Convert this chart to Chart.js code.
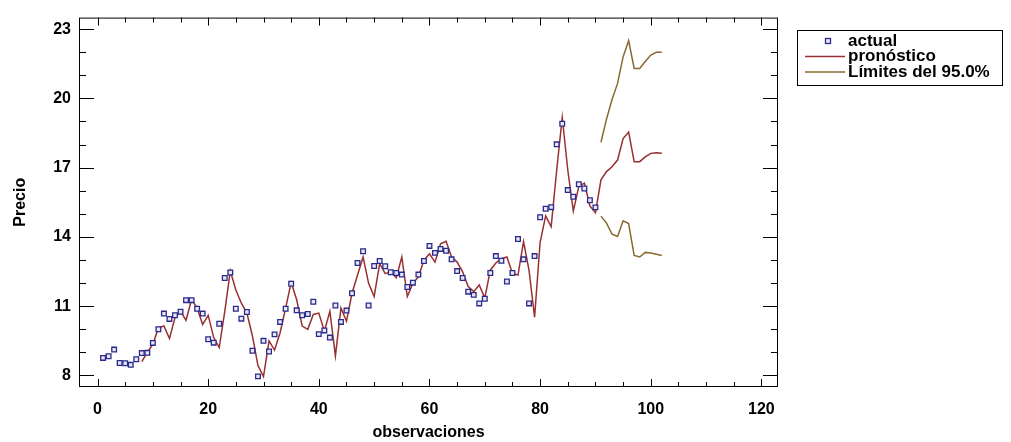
<!DOCTYPE html>
<html>
<head>
<meta charset="utf-8">
<title>Precio - pronóstico</title>
<script src="https://cdn.jsdelivr.net/npm/chart.js"></script>
<style>
  body { margin: 0; background: #fff; }
  canvas { display: block; }
</style>
</head>
<body>
<canvas id="grafico" width="1011" height="442"></canvas>
<script>
// valores observados, observaciones 1..90
const actualInicio = 1;
const actual = [
  8.76, 8.83, 9.12, 8.54, 8.53, 8.46, 8.70, 8.97, 8.98, 9.41,
  10.00, 10.68, 10.45, 10.61, 10.76, 11.26, 11.26, 10.89, 10.68, 9.57,
  9.42, 10.24, 12.22, 12.46, 10.89, 10.46, 10.75, 9.07, 7.96, 9.50,
  9.04, 9.78, 10.32, 10.89, 11.97, 10.82, 10.61, 10.66, 11.19, 9.79,
  9.95, 9.64, 11.03, 10.32, 10.81, 11.56, 12.87, 13.38, 11.03, 12.74,
  12.96, 12.73, 12.47, 12.44, 12.37, 11.83, 12.02, 12.37, 12.96, 13.61,
  13.31, 13.48, 13.40, 13.03, 12.52, 12.22, 11.63, 11.49, 11.12, 11.32,
  12.44, 13.17, 12.97, 12.07, 12.44, 13.91, 13.03, 11.12, 13.17, 14.85,
  15.22, 15.29, 18.01, 18.90, 16.03, 15.74, 16.28, 16.10, 15.59, 15.28
];

// pronóstico, observaciones 8..102
const pronosticoInicio = 8;
const pronostico = [
  8.60, 9.00, 9.35, 10.06, 10.14, 9.60, 10.50, 10.78, 10.39, 11.30,
  10.92, 10.21, 10.60, 9.64, 9.21, 10.78, 12.53, 11.70, 11.13, 10.70,
  9.71, 8.43, 7.95, 9.50, 9.10, 9.85, 10.92, 12.03, 11.28, 10.14,
  10.00, 10.64, 10.70, 9.92, 10.78, 8.85, 10.92, 10.35, 11.56, 12.35,
  13.13, 11.99, 11.42, 12.84, 12.41, 12.49, 12.23, 13.13, 11.42, 11.99,
  12.27, 12.99, 13.27, 12.91, 13.70, 13.81, 13.13, 12.91, 12.49, 11.85,
  11.63, 11.92, 11.35, 12.56, 12.87, 13.06, 13.13, 12.42, 12.35, 13.80,
  12.55, 10.52, 13.77, 14.91, 14.45, 16.90, 19.18, 16.90, 15.12, 16.19,
  16.33, 15.34, 15.05, 16.47, 16.83, 17.04, 17.33, 18.26, 18.54, 17.26,
  17.26, 17.47, 17.62, 17.65, 17.62
];

// límites del 95%, observaciones 91..102
const limitesInicio = 91;
const limiteSuperior = [18.10, 19.10, 19.95, 20.65, 21.80, 22.50, 21.30, 21.30, 21.60, 21.88, 22.00, 22.00];
const limiteInferior = [14.90, 14.60, 14.12, 14.02, 14.70, 14.58, 13.20, 13.13, 13.33, 13.30, 13.25, 13.20];

const xTicks = [0, 20, 40, 60, 80, 100, 120];
const yTicks = [8, 11, 14, 17, 20, 23];

const fuente = "'Liberation Sans', Arial, sans-serif";
const colorActual = '#2a2a8a';
const colorPronostico = '#992f30';
const colorLimites = '#88692e';

function puntos(inicio, valores) {
  return valores.map((v, i) => ({ x: inicio + i, y: v }));
}

// marco, marcas hacia dentro en los cuatro lados y leyenda
const marcoPlugin = {
  id: 'marco',
  afterDraw(chart) {
    const { ctx, chartArea: a, scales: { x, y } } = chart;
    ctx.save();
    ctx.strokeStyle = '#000';
    ctx.lineWidth = 1;
    ctx.strokeRect(a.left + 0.5, a.top + 0.5, a.right - a.left - 1, a.bottom - a.top - 1);

    ctx.beginPath();
    for (let v = xTicks[0]; v <= xTicks[xTicks.length - 1]; v += 5) {
      const px = Math.round(x.getPixelForValue(v)) + 0.5;
      const len = xTicks.includes(v) ? 8 : 5;
      ctx.moveTo(px, a.bottom); ctx.lineTo(px, a.bottom - len);
      ctx.moveTo(px, a.top); ctx.lineTo(px, a.top + len);
    }
    for (let v = yTicks[0]; v <= yTicks[yTicks.length - 1]; v += 1) {
      const py = Math.round(y.getPixelForValue(v)) + 0.5;
      const len = yTicks.includes(v) ? 15 : 7;
      ctx.moveTo(a.left, py); ctx.lineTo(a.left + len, py);
      ctx.moveTo(a.right, py); ctx.lineTo(a.right - len, py);
    }
    ctx.stroke();

    // leyenda
    const lx = 797.5, ly = 30.5, lw = 205, lh = 55;
    ctx.fillStyle = '#fff';
    ctx.fillRect(lx, ly, lw, lh);
    ctx.strokeRect(lx, ly, lw, lh);
    const ds = chart.data.datasets;
    const filas = [41, 56.5, 72];
    ctx.font = 'bold 17px ' + fuente;
    ctx.textBaseline = 'middle';
    ctx.textAlign = 'left';
    // actual: cuadrito
    ctx.strokeStyle = ds[0].borderColor;
    ctx.fillStyle = ds[0].backgroundColor;
    ctx.lineWidth = 1.3;
    ctx.fillRect(825.5, filas[0] - 2.5, 5, 5);
    ctx.strokeRect(825.5, filas[0] - 2.5, 5, 5);
    // líneas
    [[1, filas[1]], [2, filas[2]]].forEach(([i, fy]) => {
      ctx.strokeStyle = ds[i].borderColor;
      ctx.lineWidth = 1.5;
      ctx.beginPath();
      ctx.moveTo(805, fy); ctx.lineTo(845, fy);
      ctx.stroke();
    });
    ctx.fillStyle = '#000';
    ctx.fillText(ds[0].label, 848, filas[0]);
    ctx.fillText(ds[1].label, 848, filas[1]);
    ctx.fillText(ds[2].label, 848, filas[2]);
    ctx.restore();
  }
};

const tickFont = { family: fuente, size: 16, weight: 'bold' };
const titleFont = { family: fuente, size: 16, weight: 'bold' };

new Chart(document.getElementById('grafico'), {
  type: 'line',
  data: {
    datasets: [
      {
        label: 'actual',
        data: puntos(actualInicio, actual),
        showLine: false,
        pointStyle: 'rect',
        pointRadius: 3.3,
        pointBorderWidth: 1.3,
        borderColor: colorActual,
        backgroundColor: '#e6e6f8'
      },
      {
        label: 'pronóstico',
        data: puntos(pronosticoInicio, pronostico),
        borderColor: colorPronostico,
        borderWidth: 1.5,
        pointRadius: 0,
        tension: 0,
        fill: false
      },
      {
        label: 'Límites del 95.0%',
        data: puntos(limitesInicio, limiteSuperior),
        borderColor: colorLimites,
        borderWidth: 1.5,
        pointRadius: 0,
        tension: 0,
        fill: false
      },
      {
        label: 'Límites del 95.0%',
        data: puntos(limitesInicio, limiteInferior),
        borderColor: colorLimites,
        borderWidth: 1.5,
        pointRadius: 0,
        tension: 0,
        fill: false
      }
    ]
  },
  options: {
    responsive: false,
    animation: false,
    devicePixelRatio: 1,
    events: [],
    layout: { padding: { top: 13, right: 233, left: 0, bottom: 0 } },
    plugins: {
      legend: { display: false },
      tooltip: { enabled: false }
    },
    scales: {
      x: {
        type: 'linear',
        min: -3.35,
        max: 123,
        afterBuildTicks: ax => { ax.ticks = xTicks.map(v => ({ value: v })); },
        afterFit: ax => { ax.height = 55; },
        grid: { display: false, drawTicks: false },
        border: { display: false },
        ticks: { padding: 13, color: '#000', font: tickFont, maxRotation: 0, autoSkip: false },
        title: { display: true, text: 'observaciones', color: '#000', font: titleFont, padding: { top: 0, bottom: 0 } }
      },
      y: {
        type: 'linear',
        min: 7.5,
        max: 23.5,
        afterBuildTicks: ax => { ax.ticks = yTicks.map(v => ({ value: v })); },
        afterFit: ax => { ax.width = 79; },
        grid: { display: false, drawTicks: false },
        border: { display: false },
        ticks: { padding: 8, color: '#000', font: tickFont, autoSkip: false },
        title: { display: true, text: 'Precio', color: '#000', font: titleFont, padding: { top: 11, bottom: 0 } }
      }
    }
  },
  plugins: [marcoPlugin]
});
</script>
</body>
</html>
